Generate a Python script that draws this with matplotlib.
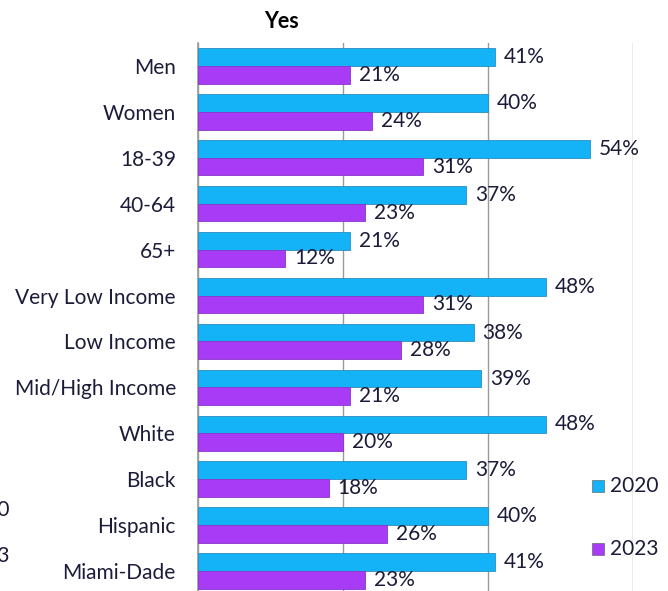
import numpy as np
import matplotlib.pyplot as plt

categories = ['Men', 'Women', '18-39', '40-64', '65+', 'Very Low Income',
              'Low Income', 'Mid/High Income', 'White', 'Black', 'Hispanic',
              'Miami-Dade']
yes_2020 = [41, 40, 54, 37, 21, 48, 38, 39, 48, 37, 40, 41]
yes_2023 = [21, 24, 31, 23, 12, 31, 28, 21, 20, 18, 26, 23]
series_labels = ['2020', '2023']

c2020 = '#14B2F6'
c2023 = '#A83CF6'
txt = '#1c1c3a'
fs = 15

plt.rcParams['font.family'] = ['Lato', 'DejaVu Sans']

fig = plt.figure(figsize=(6.68, 5.91), dpi=100)
ax = fig.add_axes([198 / 668, 0.0, (633 - 198) / 668, (591 - 43) / 591])

y = np.arange(len(categories))
h = 0.385
b1 = ax.barh(y - h / 2, yes_2020, height=h, color=c2020, edgecolor='#2a8fc0', linewidth=0.6, zorder=3)
b2 = ax.barh(y + h / 2, yes_2023, height=h, color=c2023, edgecolor='#8a35c8', linewidth=0.6, zorder=3)

for bars, vals in ((b1, yes_2020), (b2, yes_2023)):
    for rect, v in zip(bars, vals):
        ax.annotate(f'{v}%', (rect.get_width(), rect.get_y() + rect.get_height() / 2),
                    xytext=(6.5, 0), textcoords='offset points', va='center', ha='left',
                    fontsize=fs, color=txt, zorder=4)

ax.set_xlim(0, 60)
ax.set_ylim(11.436, -0.501)
ax.set_xticks([0, 20, 40, 60])
ax.set_xticklabels([])
ax.tick_params(axis='x', length=0)
ax.xaxis.grid(True, color='#9a9a9a', linewidth=1.0, zorder=0)
ax.set_yticks(y)
ax.set_yticklabels(categories, fontsize=fs, color=txt)
ax.tick_params(axis='y', length=0, pad=16)
for s in ['top', 'right', 'bottom']:
    ax.spines[s].set_visible(False)
ax.spines['left'].set_color('#9a9a9a')
ax.spines['left'].set_linewidth(1.2)

fig.text(282 / 668, 1 - 21 / 591, 'Yes', ha='center', va='center',
         fontsize=15.5, fontweight='bold', color='black')

# legend on the right
for lab, col, yy in ((series_labels[0], c2020, 486), (series_labels[1], c2023, 549)):
    fig.patches.append(plt.Rectangle((592 / 668, 1 - (yy + 6) / 591), 12 / 668, 12 / 591,
                                     transform=fig.transFigure, facecolor=col,
                                     edgecolor='#555555', linewidth=0.4, figure=fig))
    fig.text(610 / 668, 1 - yy / 591, lab, ha='left', va='center', fontsize=fs, color=txt)

# cut-off legend of the neighbouring chart
fig.text(9 / 668, 1 - 510 / 591, '2020', ha='right', va='center', fontsize=fs, color=txt)
fig.text(9 / 668, 1 - 556 / 591, '2023', ha='right', va='center', fontsize=fs, color=txt)

fig.savefig('out.png', dpi=100)
